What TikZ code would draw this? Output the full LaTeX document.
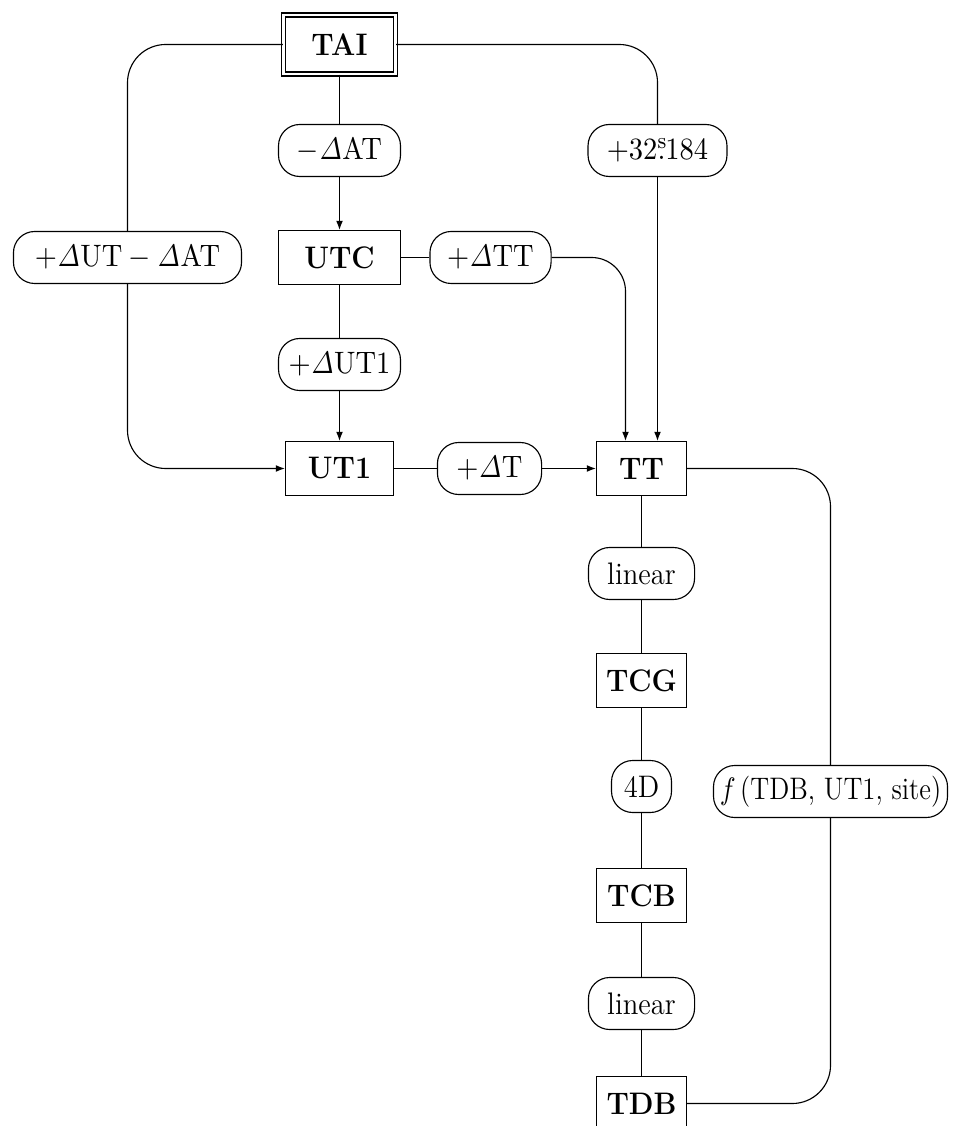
\documentclass[tikz,border=0pt]{standalone}
\usetikzlibrary{arrows.meta}
\newcommand\sqz[1]{\scalebox{0.92}[1]{#1}}
\begin{document}
\begin{tikzpicture}[x=0.3534pt,y=-0.3534pt,
  >={Latex[length=3.2pt,width=2.4pt]},
  rbox/.style={draw,fill=white,minimum height=19.08pt,inner sep=1pt,font=\fontsize{11}{13}\selectfont\bfseries},
  dbox/.style={draw,double,double distance=1pt,fill=white,minimum width=39.58pt,minimum height=20.85pt,inner sep=1pt,font=\fontsize{11}{13}\selectfont\bfseries},
  lab/.style={draw,fill=white,rounded corners=7.5pt,minimum height=18.38pt,inner sep=1pt,font=\fontsize{11}{13}\selectfont},
  rc/.style={rounded corners=13.5pt}]
\useasboundingbox (0,0) rectangle (955,1126);
% nodes
\node[dbox] (TAI) at (339.5,44.5) {\sqz{TAI}};
\node[lab,minimum width=43.1pt] (dAT) at (339.5,150.5) {\sqz{$-\mathit{\Delta}\mathrm{AT}$}};
\node[lab,minimum width=49.1pt] (d32) at (657.5,150.5) {\sqz{$+32\rlap{$^{\mathrm{s}}$}.184$}};
\node[lab,minimum width=80.6pt] (dUTAT) at (127.5,257.5) {\sqz{$+\mathit{\Delta}\mathrm{UT}-\mathit{\Delta}\mathrm{AT}$}};
\node[rbox,minimum width=43.1pt] (UTC) at (339.5,257.5) {\sqz{UTC}};
\node[lab,minimum width=42.8pt] (dTT) at (490.5,257.5) {\sqz{$+\mathit{\Delta}\mathrm{TT}$}};
\node[lab,minimum width=43.1pt] (dUT1) at (339.5,364.5) {\sqz{$+\mathit{\Delta}\mathrm{UT1}$}};
\node[rbox,minimum width=38.16pt] (UT1) at (339.5,468.5) {\sqz{UT1}};
\node[lab,minimum width=36.8pt] (dT) at (489.5,468.5) {\sqz{$+\mathit{\Delta}\mathrm{T}$}};
\node[rbox,minimum width=31.8pt] (TT) at (641.5,468.5) {\sqz{TT}};
\node[lab,minimum width=37.5pt] (lin1) at (641.5,573.5) {\sqz{linear}};
\node[rbox,minimum width=31.8pt] (TCG) at (641.5,680.5) {\sqz{TCG}};
\node[lab,minimum width=21.2pt] (D4) at (641.5,786.5) {\sqz{4D}};
\node[lab,minimum width=82.7pt] (f) at (830.5,791.5) {\scalebox{0.86}[1]{$f\,$(TDB, UT1, site)}};
\node[rbox,minimum width=31.8pt] (TCB) at (641.5,895.5) {\sqz{TCB}};
\node[lab,minimum width=37.5pt] (lin2) at (641.5,1003.5) {\sqz{linear}};
\node[rbox,minimum width=31.8pt] (TDB) at (641.5,1103.5) {\sqz{TDB}};
% connectors
\draw[rc] (TAI.west) -| (dUTAT.north);
\draw[rc,->] (dUTAT.south) |- (UT1.west);
\draw (TAI.south) -- (dAT.north);
\draw[->] (dAT.south) -- (UTC.north);
\draw (UTC.south) -- (dUT1.north);
\draw[->] (dUT1.south) -- (UT1.north);
\draw[rc] (TAI.east) -| (d32.north);
\draw[->] (d32.south) -- (d32.south |- TT.north);
\draw (UTC.east) -- (dTT.west);
\draw[rounded corners=12pt,->] (dTT.east) -| ([xshift=-5.654pt]TT.north);
\draw (UT1.east) -- (dT.west);
\draw[->] (dT.east) -- (TT.west);
\draw (TT.south) -- (lin1.north);
\draw (lin1.south) -- (TCG.north);
\draw (TCG.south) -- (D4.north);
\draw (D4.south) -- (TCB.north);
\draw (TCB.south) -- (lin2.north);
\draw (lin2.south) -- (TDB.north);
\draw[rc] (TT.east) -| (f.north);
\draw[rc] (f.south) |- (TDB.east);
\end{tikzpicture}
\end{document}
